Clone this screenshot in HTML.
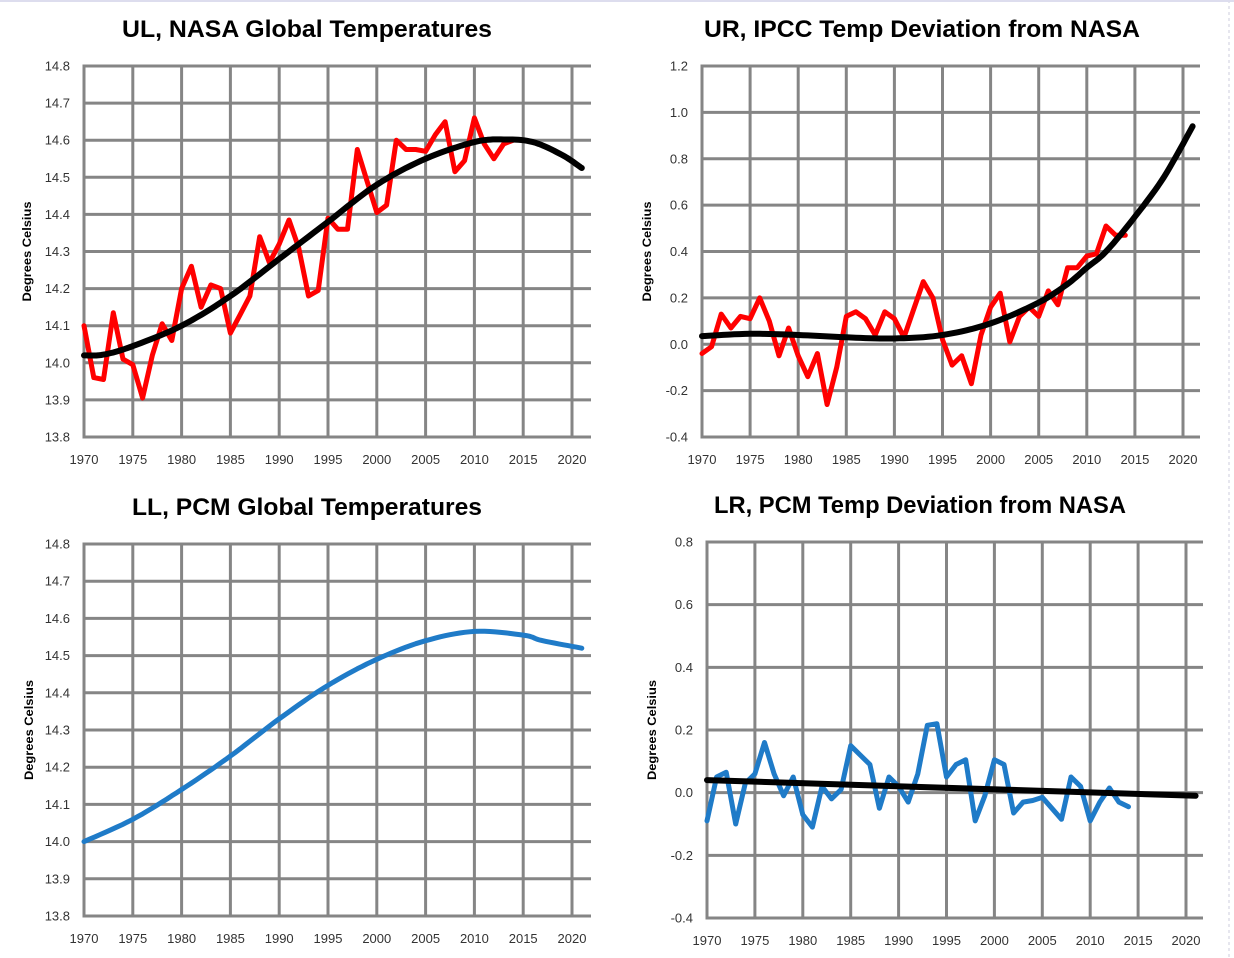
<!DOCTYPE html>
<html><head><meta charset="utf-8"><style>
html,body{margin:0;padding:0;background:#fff;}
svg{display:block;}
</style></head><body>
<svg id="s" width="1234" height="958" xmlns="http://www.w3.org/2000/svg" font-family="Liberation Sans, sans-serif"></svg>
<script>
var S=document.getElementById('s');var out='';
out+='<line x1="1229" y1="0" x2="1229" y2="958" stroke="#ccd" stroke-width="1" stroke-dasharray="3,3"/>';
out+='<line x1="0" y1="1" x2="1234" y2="1" stroke="#dde" stroke-width="2"/>';
function panel(p){
  var X=function(yr){return p.x0+(yr-1970)*p.ppy;};
  var Y=function(v){return p.bot-(v-p.vmin)/(p.vmax-p.vmin)*(p.bot-p.top);};
  var n=Math.round((p.vmax-p.vmin)/p.step);
  for(var i=0;i<=n;i++){var v=p.vmin+i*p.step;var y=Y(v);
    out+='<line x1="'+p.x0+'" y1="'+y+'" x2="'+p.right+'" y2="'+y+'" stroke="#858585" stroke-width="3"/>';
    out+='<text x="'+(p.x0-14)+'" y="'+(y+4.5)+'" font-size="13" fill="#333" text-anchor="end">'+v.toFixed(1)+'</text>';}
  for(var yr=1970;yr<=2020;yr+=5){var x=X(yr);
    out+='<line x1="'+x+'" y1="'+(p.top-1.5)+'" x2="'+x+'" y2="'+(p.bot+1.5)+'" stroke="#858585" stroke-width="3"/>';
    out+='<text x="'+x+'" y="'+(p.bot+27)+'" font-size="13" fill="#333" text-anchor="middle">'+yr+'</text>';}
  out+='<text x="'+p.tx+'" y="'+p.ty+'" font-size="24" font-weight="bold" text-anchor="middle" textLength="'+p.tw+'" lengthAdjust="spacingAndGlyphs">'+p.title+'</text>';
  var cy=(p.top+p.bot)/2;
  out+='<text transform="translate('+p.ax+','+cy+') rotate(-90)" font-size="12" font-weight="bold" text-anchor="middle" textLength="100" lengthAdjust="spacingAndGlyphs">Degrees Celsius</text>';
  p.series.forEach(function(s){
    var pts=s.d.map(function(d){return X(d[0]).toFixed(1)+','+Y(d[1]).toFixed(1);}).join(' ');
    out+='<polyline points="'+pts+'" fill="none" stroke="'+s.c+'" stroke-width="'+s.w+'" stroke-linejoin="round" stroke-linecap="round"/>';
  });
}
function yearly(a,start){return a.map(function(v,i){return [start+i,v];});}
function interp(anch){var r=[];for(var i=0;i<anch.length-1;i++){var a=anch[i],b=anch[i+1];
  var a0=anch[i-1]||a,b1=anch[i+2]||b;
  for(var t=0;t<1;t+=0.1){var t2=t*t,t3=t2*t;
   var f=function(k){return 0.5*((2*a[k])+(-a0[k]+b[k])*t+(2*a0[k]-5*a[k]+4*b[k]-b1[k])*t2+(-a0[k]+3*a[k]-3*b[k]+b1[k])*t3);};
   r.push([f(0),f(1)]);}}
  r.push(anch[anch.length-1]);return r;}
var ulR=yearly([14.10,13.96,13.955,14.135,14.01,13.995,13.905,14.02,14.105,14.06,14.20,14.26,14.15,14.21,14.20,14.08,14.13,14.18,14.34,14.27,14.32,14.385,14.31,14.18,14.195,14.39,14.36,14.36,14.575,14.49,14.405,14.425,14.60,14.575,14.575,14.57,14.615,14.65,14.515,14.545,14.66,14.59,14.55,14.59,14.60],1970);
var ulB=interp([[1970,14.02],[1972,14.022],[1975,14.045],[1980,14.10],[1985,14.18],[1990,14.28],[1995,14.38],[2000,14.48],[2005,14.55],[2010,14.595],[2013,14.602],[2016,14.595],[2019,14.56],[2021,14.525]]);
panel({x0:84,ppy:9.76,right:591,top:66,bot:437,vmin:13.8,vmax:14.8,step:0.1,tx:307,ty:37,tw:370,ax:31,
 title:'UL, NASA Global Temperatures',series:[{d:ulR,c:'#ff0000',w:5},{d:ulB,c:'#000',w:6}]});
var urR=yearly([-0.04,-0.01,0.13,0.07,0.12,0.11,0.20,0.10,-0.05,0.07,-0.05,-0.14,-0.04,-0.26,-0.10,0.12,0.14,0.11,0.04,0.14,0.11,0.03,0.15,0.27,0.20,0.02,-0.09,-0.05,-0.17,0.04,0.16,0.22,0.01,0.12,0.16,0.12,0.23,0.17,0.33,0.33,0.38,0.39,0.51,0.47,0.47],1970);
var urB=interp([[1970,0.035],[1975,0.045],[1980,0.04],[1985,0.03],[1990,0.025],[1995,0.04],[2000,0.09],[2005,0.18],[2008,0.26],[2010,0.33],[2012,0.40],[2015,0.55],[2018,0.72],[2021,0.94]]);
panel({x0:702,ppy:9.62,right:1200,top:66,bot:437,vmin:-0.4,vmax:1.2,step:0.2,tx:922,ty:37,tw:436,ax:651,
 title:'UR, IPCC Temp Deviation from NASA',series:[{d:urR,c:'#ff0000',w:5},{d:urB,c:'#000',w:6}]});
var llB=interp([[1970,14.00],[1975,14.06],[1980,14.14],[1985,14.23],[1990,14.33],[1995,14.42],[2000,14.49],[2005,14.54],[2010,14.565],[2015,14.555],[2017,14.54],[2021,14.52]]);
panel({x0:84,ppy:9.76,right:591,top:544,bot:916,vmin:13.8,vmax:14.8,step:0.1,tx:307,ty:515,tw:350,ax:33,
 title:'LL, PCM Global Temperatures',series:[{d:llB,c:'#1f7bc8',w:5}]});
var lrB=yearly([-0.09,0.05,0.065,-0.10,0.03,0.06,0.16,0.06,-0.01,0.05,-0.07,-0.11,0.02,-0.02,0.01,0.15,0.12,0.09,-0.05,0.05,0.02,-0.03,0.06,0.215,0.22,0.05,0.09,0.105,-0.09,-0.01,0.105,0.09,-0.065,-0.03,-0.025,-0.015,-0.05,-0.085,0.05,0.02,-0.09,-0.03,0.015,-0.03,-0.045],1970);
panel({x0:707,ppy:9.58,right:1203,top:542,bot:918,vmin:-0.4,vmax:0.8,step:0.2,tx:920,ty:513,tw:412,ax:656,
 title:'LR, PCM Temp Deviation from NASA',series:[{d:lrB,c:'#1f7bc8',w:5},{d:[[1970,0.04],[2021,-0.01]],c:'#000',w:6}]});
S.innerHTML=out;
</script>
</body></html>
